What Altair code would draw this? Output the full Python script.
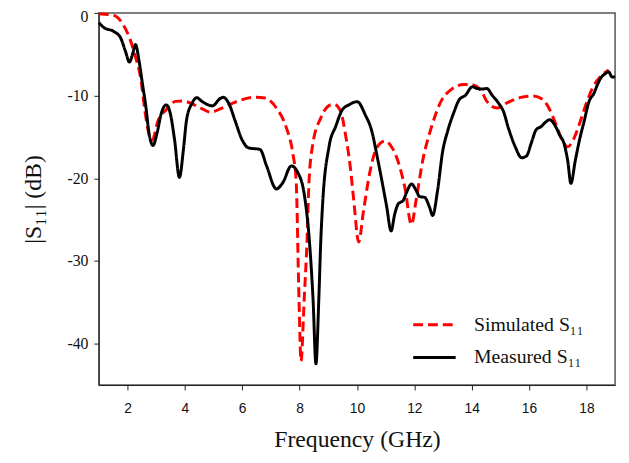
import altair as alt
import pandas as pd

sim_f = [1.00, 1.52, 1.86, 2.09, 2.26, 2.46, 2.61, 2.75, 2.86, 3.06, 3.35, 3.68, 3.92,
         4.44, 4.89, 5.30, 5.82, 6.45, 6.79, 7.19, 7.54, 7.77, 7.88, 7.98, 8.05, 8.16,
         8.26, 8.33, 8.46, 8.74, 9.09, 9.20, 9.43, 9.60, 9.77, 9.89, 10.06, 10.23, 10.46,
         10.69, 10.98, 11.26, 11.50, 11.67, 11.90, 12.06, 12.29, 12.59, 12.93, 13.27,
         13.73, 13.96, 14.31, 14.53, 14.88, 15.22, 15.68, 16.14, 16.49, 16.72, 16.94,
         17.17, 17.35, 17.52, 17.75, 17.98, 18.21, 18.49, 18.78]
sim_db = [-0.1, -0.3, -1.5, -3.2, -5.1, -7.9, -11.9, -14.7, -15.4, -13.1, -11.7, -10.7, -10.65,
          -11.3, -12.0, -11.5, -10.7, -10.2, -10.3, -11.5, -13.9, -17.1, -20.3, -34.7, -42.1, -34.7,
          -27.5, -20.3, -15.9, -12.7, -11.1, -11.05, -11.9, -14.7, -18.7, -22.7, -27.7, -23.9, -19.1,
          -16.3, -15.5, -16.5, -18.7, -21.1, -25.6, -22.7, -17.9, -13.9, -10.7, -9.3,
          -8.66, -8.66, -9.3, -10.7, -11.5, -10.9, -10.25, -10.05, -10.5, -11.7, -13.5,
          -15.5, -16.2, -15.5, -13.5, -11.1, -9.1, -7.7, -6.9]

meas_f = [1.00, 1.17, 1.52, 1.75, 1.92, 2.07, 2.18, 2.28, 2.40, 2.52, 2.64, 2.75, 2.89, 3.03,
          3.18, 3.35, 3.49, 3.64, 3.81, 3.95, 4.06, 4.25, 4.41, 4.61, 4.96, 5.24, 5.34, 5.53,
          5.76, 5.99, 6.22, 6.62, 6.85, 7.19, 7.42, 7.71, 7.94, 8.17, 8.34, 8.47, 8.57, 8.67,
          8.74, 8.80, 9.03, 9.26, 9.49, 9.72, 10.01, 10.29, 10.52, 10.69, 10.87, 11.04, 11.19,
          11.32, 11.44, 11.61, 11.73, 11.90, 12.07, 12.18, 12.36, 12.53, 12.64, 12.81, 12.99,
          13.16, 13.39, 13.56, 13.79, 14.02, 14.19, 14.36, 14.53, 14.71, 14.94, 15.11, 15.28,
          15.51, 15.74, 15.91, 16.08, 16.25, 16.43, 16.54, 16.72, 16.89, 17.06, 17.23, 17.35,
          17.46, 17.61, 17.75, 17.92, 18.09, 18.26, 18.38, 18.49, 18.66, 18.78, 18.89, 19.00]
meas_db = [-1.16, -1.76, -2.24, -2.95, -4.55, -5.95, -4.95, -3.83, -5.74, -8.54, -11.33, -14.52,
           -16.03, -14.52, -12.13, -11.12, -12.13, -15.31, -19.90, -16.51, -12.92, -10.93, -10.25,
           -10.73, -11.24, -10.33, -10.21, -10.93, -13.12, -15.31, -16.32, -16.51, -18.50, -21.29,
           -20.50, -18.50, -19.31, -22.09, -27.48, -34.65, -42.43, -34.65, -27.48, -23.29, -16.11,
           -13.72, -11.72, -11.12, -10.73, -12.32, -14.32, -17.11, -20.30, -23.49, -26.36, -24.28,
           -23.09, -22.69, -21.70, -20.69, -21.50, -22.21, -22.30, -23.49, -24.49, -21.50, -16.71,
           -14.32, -11.93, -10.53, -9.93, -8.94, -9.14, -9.21, -9.14, -9.93, -10.93, -11.93,
           -13.92, -16.11, -17.51, -17.31, -15.72, -14.11, -13.72, -13.33, -12.92, -13.52, -14.71,
           -15.91, -17.91, -20.62, -17.91, -15.51, -13.12, -10.73, -9.74, -8.73, -7.94, -7.34,
           -7.14, -7.74, -7.74]

series_names = ["Simulated S\u2081\u2081", "Measured S\u2081\u2081"]
x_ticks = [2, 4, 6, 8, 10, 12, 14, 16, 18]
y_ticks = [0, -10, -20, -30, -40]

df = pd.concat([
    pd.DataFrame({"f": sim_f, "db": sim_db, "series": series_names[0], "order": range(len(sim_f))}),
    pd.DataFrame({"f": meas_f, "db": meas_db, "series": series_names[1], "order": range(len(meas_f))}),
])

serif = "Liberation Serif"
sans = "Liberation Sans"

legend = alt.Legend(title=None, orient="none", legendX=317, legendY=293,
                    symbolType="stroke", symbolSize=1849, symbolStrokeWidth=3,
                    labelFont=serif, labelFontSize=20, labelColor="#111",
                    labelOffset=17, rowPadding=0)

chart = alt.Chart(df).mark_line(interpolate="monotone", strokeWidth=3).encode(
    x=alt.X("f:Q", scale=alt.Scale(domain=[1, 19], nice=False, zero=False),
            axis=alt.Axis(values=x_ticks, title="Frequency (GHz)", grid=False,
                          labelFont=sans, labelFontSize=14, labelPadding=12,
                          titleFont=serif, titleFontSize=24, titleFontWeight="normal",
                          titlePadding=12, tickSize=5, domainColor="#222", tickColor="#222",
                          labelColor="#111", titleColor="#111")),
    y=alt.Y("db:Q", scale=alt.Scale(domain=[-45, 0], nice=False),
            axis=alt.Axis(values=y_ticks, title="|S\u2081\u2081| (dB)", grid=False,
                          labelExpr="datum.value < 0 ? '-' + abs(datum.value) : '' + datum.value",
                          labelFont=serif, labelFontSize=16, labelPadding=6,
                          labelFlush=True, labelFlushOffset=4,
                          titleFont=serif, titleFontSize=24, titleFontWeight="normal",
                          titlePadding=22, tickSize=5, domainColor="#222", tickColor="#222",
                          labelColor="#111", titleColor="#111")),
    color=alt.Color("series:N", scale=alt.Scale(domain=series_names, range=["#ff0000", "#000000"]),
                    legend=legend),
    strokeDash=alt.StrokeDash("series:N", scale=alt.Scale(domain=series_names, range=[[10, 5], [1, 0]]),
                              legend=legend),
    order="order:Q",
).properties(
    width=523, height=377,
    autosize=alt.AutoSizeParams(type="none"),
    padding={"left": 92, "top": 2, "right": 6, "bottom": 76},
).configure_view(stroke="#555", strokeWidth=1.5)

chart.save("out.html", embed_options={"renderer": "svg", "actions": False})
